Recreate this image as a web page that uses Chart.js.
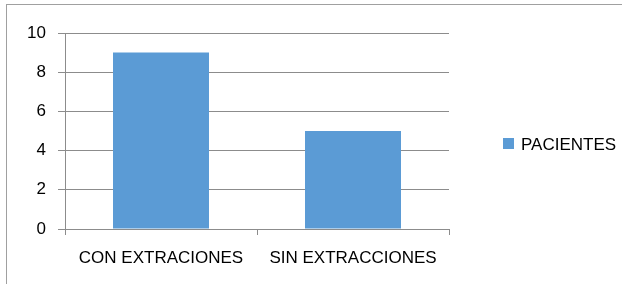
<!DOCTYPE html>
<html>
<head>
<meta charset="utf-8">
<script src="https://cdn.jsdelivr.net/npm/chart.js@4.4.1/dist/chart.umd.min.js"></script>
<style>
  html, body { margin: 0; padding: 0; background: #fff; }
  #wrap { width: 622px; height: 284px; position: relative; }
</style>
</head>
<body>
<div id="wrap"><canvas id="grafico"></canvas></div>
<script>
// ─── Dados ────────────────────────────────────────────────────────────────────
const categorias = ['CON EXTRACIONES', 'SIN EXTRACCIONES'];
const pacientes  = [9, 5];
const serieNome  = 'PACIENTES';
const ticksY     = [0, 2, 4, 6, 8, 10];

const COR_BARRA = '#5B9BD5';
const COR_GRADE = '#8c8c8c';
const FONTE = 'Liberation Sans, Arial, sans-serif';

// Moldura cinza em volta do gráfico (como no Excel)
const moldura = {
  id: 'moldura',
  beforeDraw(chart) {
    const c = chart.ctx;
    c.save();
    c.strokeStyle = '#a0a0a0';
    c.lineWidth = 1;
    c.strokeRect(6.5, 4.5, 700, 400);
    c.restore();
  },
};

// Legenda simples à direita
const legendaDireita = {
  id: 'legendaDireita',
  afterDraw(chart) {
    const c = chart.ctx;
    const ds = chart.data.datasets[0];
    const y = (chart.chartArea.top + chart.chartArea.bottom) / 2 + 13;
    c.save();
    c.fillStyle = ds.backgroundColor;
    c.fillRect(503, y - 6, 11, 11);
    c.fillStyle = '#000';
    c.font = '17px ' + FONTE;
    c.textBaseline = 'middle';
    c.fillText(ds.label, 521, y + 1);
    c.restore();
  },
};

new Chart(document.getElementById('grafico'), {
  type: 'bar',
  data: {
    labels: categorias,
    datasets: [{
      label: serieNome,
      data: pacientes,
      backgroundColor: COR_BARRA,
      barPercentage: 0.5,
      categoryPercentage: 1,
    }],
  },
  options: {
    responsive: true,
    maintainAspectRatio: false,
    animation: false,
    layout: { padding: { top: 33, right: 173, left: 0, bottom: 0 } },
    plugins: {
      legend: { display: false },
      tooltip: { enabled: false },
    },
    scales: {
      x: {
        afterFit: s => { s.height = 55; },
        grid: { drawOnChartArea: false, drawTicks: true, tickLength: 6, color: COR_GRADE },
        border: { color: COR_GRADE },
        ticks: { color: '#000', font: { size: 17, family: FONTE }, padding: 13, maxRotation: 0 },
      },
      y: {
        min: 0,
        max: 10,
        afterFit: s => { s.width = 65; },
        afterBuildTicks: s => { s.ticks = ticksY.map(v => ({ value: v })); },
        grid: { color: COR_GRADE, tickLength: 7 },
        border: { color: COR_GRADE },
        ticks: { color: '#000', font: { size: 17, family: FONTE }, padding: 12 },
      },
    },
  },
  plugins: [moldura, legendaDireita],
});
</script>
</body>
</html>
